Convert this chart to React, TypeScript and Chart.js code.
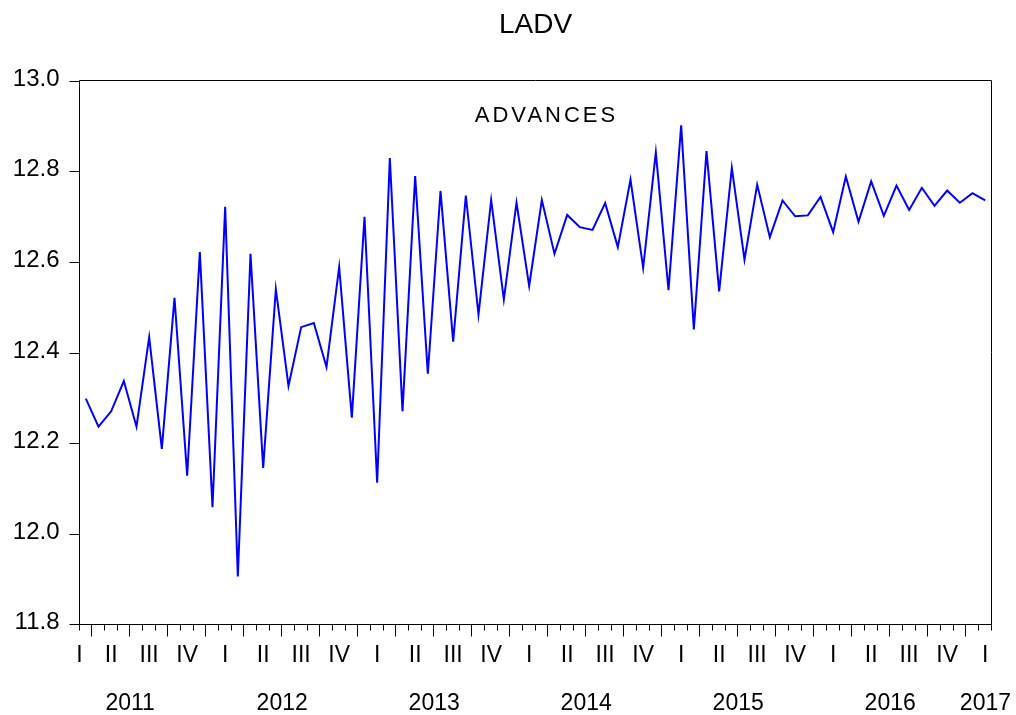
import React, { useEffect, useRef } from "react";
import { Chart, registerables } from "chart.js";

Chart.register(...registerables);

// ---- data ----
const chartTitle = "LADV";
const seriesName = "ADVANCES";
const startYear = 2011;
const startMonth = 3; // first observation: 2011M03
const quarterNames = ["I", "II", "III", "IV"];
const yTicks = [11.8, 12.0, 12.2, 12.4, 12.6, 12.8, 13.0];
const ladv = [
  12.298, 12.236, 12.270, 12.337, 12.236, 12.434, 12.187, 12.521, 12.128, 12.622,
  12.058, 12.722, 11.905, 12.618, 12.145, 12.540, 12.326, 12.456, 12.465, 12.368,
  12.589, 12.256, 12.700, 12.112, 12.830, 12.270, 12.790, 12.353, 12.757, 12.424,
  12.747, 12.484, 12.737, 12.517, 12.731, 12.547, 12.737, 12.618, 12.704, 12.677,
  12.671, 12.730, 12.633, 12.782, 12.587, 12.842, 12.538, 12.902, 12.451, 12.845,
  12.535, 12.808, 12.605, 12.771, 12.655, 12.736, 12.701, 12.703, 12.744, 12.666,
  12.789, 12.689, 12.778, 12.702, 12.769, 12.715, 12.764, 12.724, 12.758, 12.731,
  12.752, 12.736,
];
const months = ladv.map((_, i) => {
  const m0 = startMonth - 1 + i;
  return `${startYear + Math.floor(m0 / 12)}M${String((m0 % 12) + 1).padStart(2, "0")}`;
});

const W = 1016;
const H = 715;
const FONT = "'Liberation Sans', Arial, Helvetica, sans-serif";

const evAxes = {
  id: "evAxes",
  afterDraw(chart: any) {
    const { ctx, chartArea: a, scales } = chart;
    const xs = scales.x;
    const ys = scales.y;
    const n = ladv.length;
    ctx.save();
    ctx.strokeStyle = "#000";
    ctx.fillStyle = "#000";
    ctx.lineWidth = 1;
    const L = Math.round(a.left) - 0.5;
    const R = Math.round(a.right) - 0.5;
    const T = Math.round(a.top) - 0.5;
    const B = Math.round(a.bottom) + 0.5;
    const line = (x1: number, y1: number, x2: number, y2: number) => {
      ctx.beginPath();
      ctx.moveTo(x1, y1);
      ctx.lineTo(x2, y2);
      ctx.stroke();
    };
    // frame
    line(L, T, R, T);
    line(R, T, R, B);
    line(L, B, R, B);
    line(L, T, L, B);

    // y ticks + labels
    ctx.font = `24px ${FONT}`;
    ctx.textAlign = "right";
    ctx.textBaseline = "alphabetic";
    yTicks.forEach((v) => {
      const py = Math.round(ys.getPixelForValue(v)) + 0.5;
      line(L - 10, py, L, py);
      ctx.fillText(v.toFixed(1), L - 20, py + 4);
    });

    // x month ticks
    for (let k = -1; k < n; k++) {
      const b = k + 0.5;
      const m = (startMonth - 1 + k + 1) % 12;
      const long = m % 3 === 0 && k > -1 && k < n - 1;
      const px = Math.round(xs.getPixelForValue(b)) - 0.5;
      line(px, B, px, B + (long ? 12 : 6));
    }

    // quarter labels
    ctx.font = `23px ${FONT}`;
    ctx.textAlign = "center";
    const jan0 = -(startMonth - 1); // index of January of start year
    for (let q = 0; ; q++) {
      const s = jan0 + 3 * q;
      if (s > n - 1) break;
      if (s + 2 < 0) continue;
      let px = xs.getPixelForValue(s + 1);
      const label = quarterNames[q % 4];
      const w = ctx.measureText(label).width;
      px = Math.max(px, a.left);
      px = Math.min(px, a.right - w / 2);
      ctx.fillText(label, px, 662);
    }

    // year labels
    for (let yIdx = 0; ; yIdx++) {
      const s = jan0 + 12 * yIdx;
      if (s > n - 1) break;
      const label = String(startYear + yIdx);
      const w = ctx.measureText(label).width;
      let px = xs.getPixelForValue(s + 5.5);
      px = Math.max(px, w / 2 + 6);
      px = Math.min(px, W - w / 2 - 5);
      ctx.fillText(label, px, 710);
    }

    // title
    ctx.font = `28px ${FONT}`;
    ctx.fillText(chartTitle, (a.left + a.right) / 2, 33);

    // series name inside plot
    ctx.font = `22px ${FONT}`;
    (ctx as any).letterSpacing = "3px";
    ctx.fillText(seriesName, (a.left + a.right) / 2 + 11, 122);
    ctx.restore();
  },
};

export default function App() {
  const ref = useRef<HTMLCanvasElement | null>(null);
  useEffect(() => {
    if (!ref.current) return;
    const chart = new Chart(ref.current, {
      type: "line",
      data: {
        labels: months,
        datasets: [
          {
            label: seriesName,
            data: ladv.map((v, i) => ({ x: i, y: v })),
            borderColor: "#0000FF",
            borderWidth: 2,
            pointRadius: 0,
            tension: 0,
            fill: false,
          },
        ],
      },
      options: {
        animation: false,
        responsive: false,
        devicePixelRatio: 1,
        layout: { padding: { left: 79.5, right: W - 991.5, top: 81, bottom: H - 624 } },
        plugins: { legend: { display: false }, tooltip: { enabled: false }, title: { display: false } },
        scales: {
          x: { type: "linear", min: -0.5, max: ladv.length - 0.5, display: false },
          y: { type: "linear", min: 11.8, max: 13.0, display: false },
        },
      },
      plugins: [evAxes],
    });
    return () => chart.destroy();
  }, []);
  return (
    <div style={{ position: "fixed", left: 0, top: 0, width: W, height: H, background: "#fff" }}>
      <canvas ref={ref} width={W} height={H} style={{ display: "block", width: W, height: H }} />
    </div>
  );
}
